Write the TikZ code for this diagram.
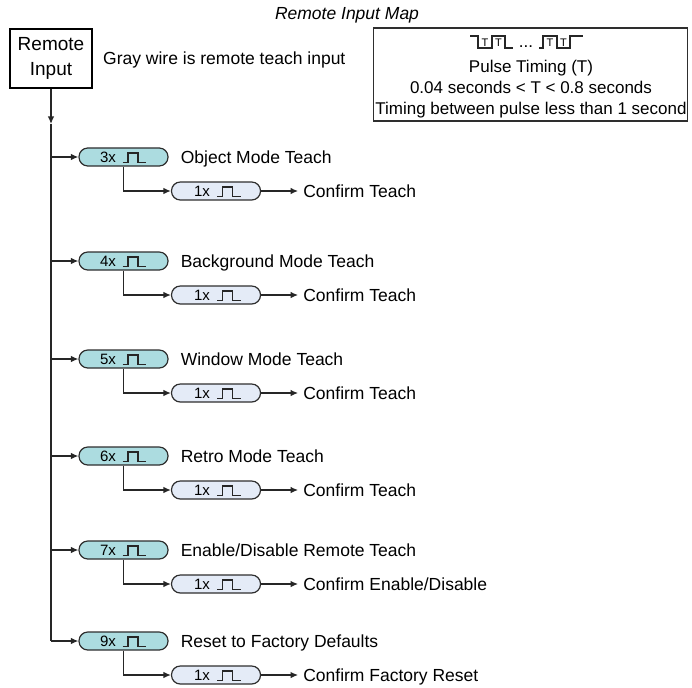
\documentclass[tikz,border=0pt]{standalone}
\usepackage{fontspec}
\setmainfont{Liberation Sans}
\usetikzlibrary{arrows.meta,calc}
\definecolor{pillA}{HTML}{ACDCE0}
\definecolor{pillB}{HTML}{E4EBF7}
\definecolor{edge}{HTML}{2E2E2E}
\tikzset{
 pillbox/.style={draw=edge, line width=1.2pt, rounded corners=8.8pt, minimum width=89pt, minimum height=18pt, inner sep=0pt},
 conn/.style={line width=1.3pt, draw=black!85},
 arr/.style={conn, -{Latex[length=7.5pt,width=6.5pt]}},
 lbl/.style={font=\fontsize{17.5}{21}\selectfont, anchor=base west, inner sep=0pt},
 ptxt/.style={font=\fontsize{15}{17}\selectfont, anchor=base, inner sep=0pt},
 btxt/.style={font=\fontsize{17}{20}\selectfont, anchor=base, inner sep=0pt},
 pulse/.style={line width=1.2pt, draw=black!85},
 ttxt/.style={font=\fontsize{11}{12}\selectfont, anchor=base, inner sep=0pt},
}
\newcommand{\mybranch}[5]{%
 \node[pillbox, fill=pillA] (m#1) at (123.5,#2) {};
 \node[ptxt] (mt#1) at ($(m#1.center)+(-15.5,5.5)$) {#3x};
 \draw[pulse] ($(m#1.center)+(-1,5.5)$) -- ++(5.5,0) -- ++(0,-9.5) -- ++(10,0) -- ++(0,9.5) -- ++(8,0);
 \node[lbl] (ml#1) at ($(m#1.east)+(12,6)$) {#4};
 \coordinate (t#1) at (51,#2);
 \draw[arr] (t#1) -- (m#1.west);
 \node[pillbox, fill=pillB] (c#1) at (216,#2+34) {};
 \node[ptxt] (ct#1) at ($(c#1.center)+(-14,5.5)$) {1x};
 \draw[pulse] ($(c#1.center)+(1,5.5)$) -- ++(5.5,0) -- ++(0,-9.5) -- ++(10,0) -- ++(0,9.5) -- ++(8,0);
 \draw[arr] (m#1.south) |- (c#1.west);
 \coordinate (ce#1) at ($(c#1.east)+(37,0)$);
 \draw[arr] (c#1.east) -- (ce#1);
 \node[lbl] (cl#1) at ($(c#1.east)+(42,6)$) {#5};
}
\begin{document}
\begin{tikzpicture}[x=1pt,y=-1pt]
\useasboundingbox (0,0) rectangle (692,687);
\node[font=\fontsize{17.5}{21}\selectfont\itshape, anchor=base, inner sep=0pt] (title) at (347,20) {Remote Input Map};
\node[draw=black, line width=1.4pt, minimum width=82pt, minimum height=59pt, align=center, inner sep=0pt, font=\fontsize{19}{25}\selectfont] (ri) at (51,58.5) {Remote\\Input};
\node[lbl] (gw) at (103,65) {Gray wire is remote teach input};
\node[draw=edge, line width=1.2pt, minimum width=314pt, minimum height=93pt, inner sep=0pt] (pb) at (530.5,74.5) {};
\draw[pulse] (470,36) -- (478,36) -- (478,48) -- (492,48) -- (492,36) -- (505,36) -- (505,48) -- (513,48);
\node[ttxt] (ta) at (485,46.5) {T};
\node[ttxt] (tb) at (498.5,46.5) {T};
\node[btxt] (dots) at (526,48) {...};
\draw[pulse] (539,48) -- (543,48) -- (543,36) -- (557,36) -- (557,48) -- (570,48) -- (570,36) -- (583,36);
\node[ttxt] (tc) at (550,46.5) {T};
\node[ttxt] (td) at (563.5,46.5) {T};
\node[btxt] (p1) at (531,73) {Pulse Timing (T)};
\node[btxt] (p2) at (531,94) {0.04 seconds < T < 0.8 seconds};
\node[btxt] (p3) at (531,115) {Timing between pulse less than 1 second};
\mybranch{1}{157}{3}{Object Mode Teach}{Confirm Teach}
\mybranch{2}{261}{4}{Background Mode Teach}{Confirm Teach}
\mybranch{3}{359}{5}{Window Mode Teach}{Confirm Teach}
\mybranch{4}{456}{6}{Retro Mode Teach}{Confirm Teach}
\mybranch{5}{550}{7}{Enable/Disable Remote Teach}{Confirm Enable/Disable}
\mybranch{6}{641}{9}{Reset to Factory Defaults}{Confirm Factory Reset}
\coordinate (ta0) at (51,124);
\draw[arr] (ri.south) -- (ta0);
\draw[conn] (ta0) -- (t6);
\end{tikzpicture}
\end{document}
